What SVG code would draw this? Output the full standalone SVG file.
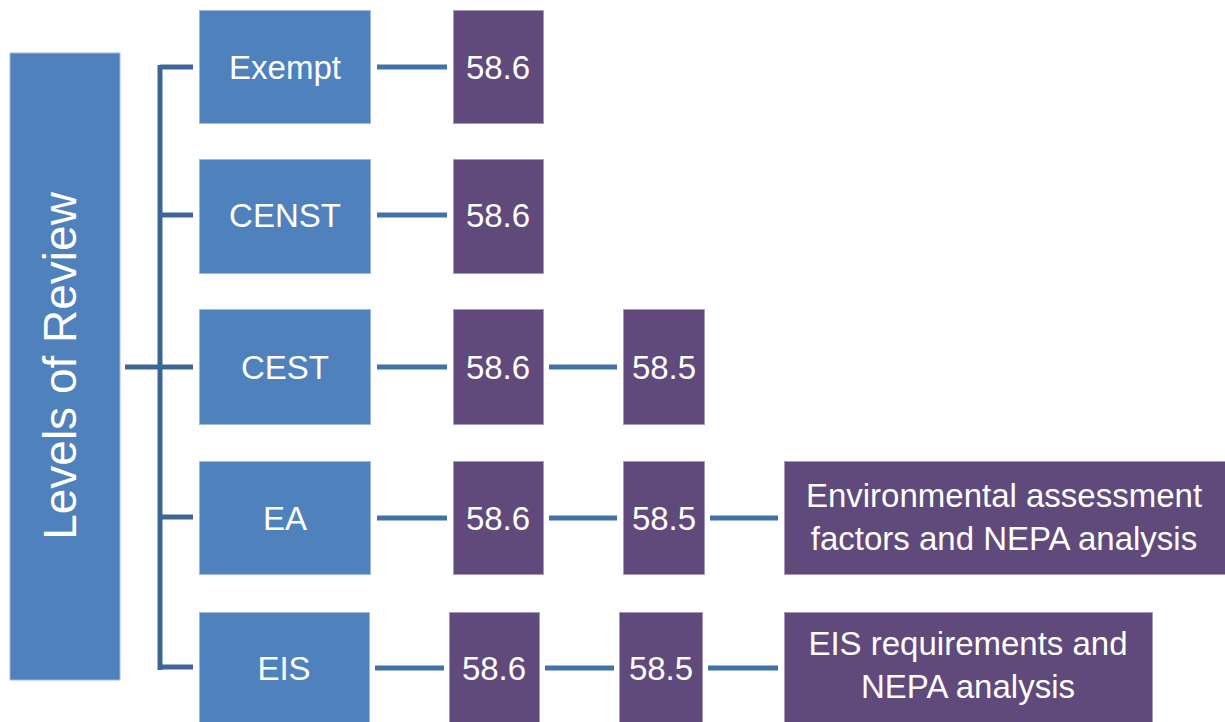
<svg xmlns="http://www.w3.org/2000/svg" width="1225" height="722" viewBox="0 0 1225 722">
<style>
.blue{fill:#4F81BD;stroke:#9FB9DC;stroke-width:1}
.purple{fill:#604A7B;stroke:#A898BC;stroke-width:1}
.t{font-family:"Liberation Sans",Arial,sans-serif;font-size:33px;fill:#FFFFFF;text-anchor:middle}
.conn{stroke:#4271A6;stroke-width:5;fill:none}
.br{stroke:#3D6697;stroke-width:5;fill:none}
</style>
<rect width="1225" height="722" fill="#FFFFFF"/>
<g id="connectors">
<path class="br" d="M125 367H193M160 65V670M160 67H193M160 215H193M160 517H193M160 667H193"/>
<path class="conn" d="M377 67H447M377 215H447M377 367H447M549 367H617M377 518H447M549 518H617M710 518H778M375 668H444M545 668H614M708 668H778"/>
</g>
<g id="levels">
<rect class="blue" x="10" y="53" width="110" height="627"/>
<text class="t" style="font-size:46px" transform="translate(76 366) rotate(-90)">Levels of Review</text>
</g>
<g id="exempt"><rect class="blue" x="199.5" y="10.5" width="171" height="113"/><text class="t" x="285" y="79">Exempt</text></g>
<g id="censt"><rect class="blue" x="199.5" y="159.5" width="171" height="114"/><text class="t" x="285" y="227">CENST</text></g>
<g id="cest"><rect class="blue" x="199.5" y="309.5" width="171" height="115"/><text class="t" x="285" y="379">CEST</text></g>
<g id="ea"><rect class="blue" x="199.5" y="461.5" width="171" height="113"/><text class="t" x="285" y="530">EA</text></g>
<g id="eis"><rect class="blue" x="199.5" y="612.5" width="170" height="115"/><text class="t" x="284" y="680">EIS</text></g>
<g id="exempt-586"><rect class="purple" x="453.5" y="10.5" width="90" height="113"/><text class="t" x="498" y="79">58.6</text></g>
<g id="censt-586"><rect class="purple" x="453.5" y="159.5" width="90" height="114"/><text class="t" x="498" y="227">58.6</text></g>
<g id="cest-586"><rect class="purple" x="453.5" y="309.5" width="90" height="115"/><text class="t" x="498" y="379">58.6</text></g>
<g id="cest-585"><rect class="purple" x="623.5" y="309.5" width="81" height="115"/><text class="t" x="664" y="379">58.5</text></g>
<g id="ea-586"><rect class="purple" x="453.5" y="461.5" width="90" height="113"/><text class="t" x="498" y="530">58.6</text></g>
<g id="ea-585"><rect class="purple" x="623.5" y="461.5" width="81" height="113"/><text class="t" x="664" y="530">58.5</text></g>
<g id="ea-detail"><rect class="purple" x="784.5" y="461.5" width="445" height="113"/>
<text class="t" x="1004" y="507">Environmental assessment</text>
<text class="t" x="1004" y="550">factors and NEPA analysis</text></g>
<g id="eis-586"><rect class="purple" x="449.5" y="612.5" width="90" height="115"/><text class="t" x="494" y="680">58.6</text></g>
<g id="eis-585"><rect class="purple" x="619.5" y="612.5" width="83" height="115"/><text class="t" x="661" y="680">58.5</text></g>
<g id="eis-detail"><rect class="purple" x="784.5" y="612.5" width="368" height="115"/>
<text class="t" x="968" y="655">EIS requirements and</text>
<text class="t" x="968" y="698">NEPA analysis</text></g>
</svg>
